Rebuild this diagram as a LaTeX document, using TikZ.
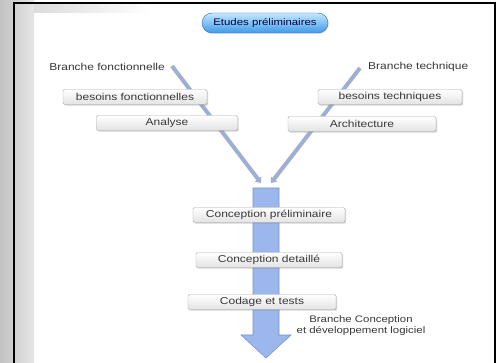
\documentclass[tikz,border=0pt]{standalone}
\usepackage{fontspec}
\setmainfont{Liberation Sans}[FakeStretch=1.2]
\usepackage{xcolor}
\usetikzlibrary{arrows.meta,shadows}

\definecolor{branchblue}{HTML}{9FAFD3}
\definecolor{flowblue}{HTML}{9CB7EC}
\definecolor{flowedge}{HTML}{7B94C8}
\definecolor{pilltop}{HTML}{C4E8FF}
\definecolor{pillbot}{HTML}{3E9AE8}
\definecolor{pilledge}{HTML}{2A6CB5}
\definecolor{labeltext}{HTML}{383838}

\begin{document}
\begin{tikzpicture}[
        x=1pt, y=-1pt,
        font=\fontsize{10}{11}\selectfont,
        phase/.style={draw=gray!65, rounded corners=1.5pt, top color=white, bottom color=gray!22, minimum height=15pt, inner sep=0pt, text=labeltext, drop shadow={shadow xshift=1.2pt, shadow yshift=-1.2pt, opacity=0.35, fill=gray}},
        pill/.style={draw=pilledge, rounded corners=10pt, top color=pilltop, bottom color=pillbot, minimum width=126pt, minimum height=20pt, inner sep=0pt, text=blue!25!black, font=\fontsize{9.5}{10}\selectfont, drop shadow={shadow xshift=0.8pt, shadow yshift=-1pt, opacity=0.3, fill=blue!40}},
        tag/.style={text=labeltext, inner sep=0pt},
        branch/.style={line width=4pt, draw=branchblue, -{Triangle[width=8pt,length=5pt]}}
    ]
        \useasboundingbox (0,0) rectangle (499,363);
        \fill[white] (0,0) rectangle (499,363);
        \fill[left color=black!24, right color=black!10] (0,0) rectangle (34,363);
        \fill[left color=black!14, right color=white] (34,4) rectangle (150,13);
        \draw[line width=1.8pt] (14,363) |- (495,3) -- (495,363);

        \node[pill] (etudes) at (265,23) {Etudes préliminaires};
        \node[tag, anchor=east] (brfonc) at (165,67) {Branche fonctionnelle};
        \node[tag, anchor=west] (brtech) at (368,67) {Branche technique};
        \node[tag, align=center, font=\fontsize{9.5}{11}\selectfont] (brconc) at (361,326) {Branche Conception\\et développement logiciel};

        \coordinate (fend) at (261,183);
        \coordinate (tend) at (271,183);
        \draw[branch] ([xshift=7pt,yshift=1pt]brfonc.east) -- (fend);
        \draw[branch] ([xshift=-8pt,yshift=-1pt]brtech.west) -- (tend);

        \fill[flowblue, draw=flowedge, line width=0.6pt] (253,188) -- (279,188) -- (279,335) -- (291,335) -- (266,358) -- (241,335) -- (253,335) -- cycle;

        \node[phase, minimum width=144pt] (besfonc) at (135,97) {besoins fonctionnelles};
        \node[phase, minimum width=141pt] (analyse) at (167,123) {Analyse};
        \node[phase, minimum width=144pt] (bestech) at (390,97) {besoins techniques};
        \node[phase, minimum width=148pt] (archi) at (362,124) {Architecture};
        \node[phase, minimum width=152pt] (prelim) at (269,215) {Conception préliminaire};
        \node[phase, minimum width=146pt] (detail) at (269,260) {Conception detaillé};
        \node[phase, minimum width=148pt] (codage) at (262,302) {Codage et tests};
    \end{tikzpicture}
\end{document}
